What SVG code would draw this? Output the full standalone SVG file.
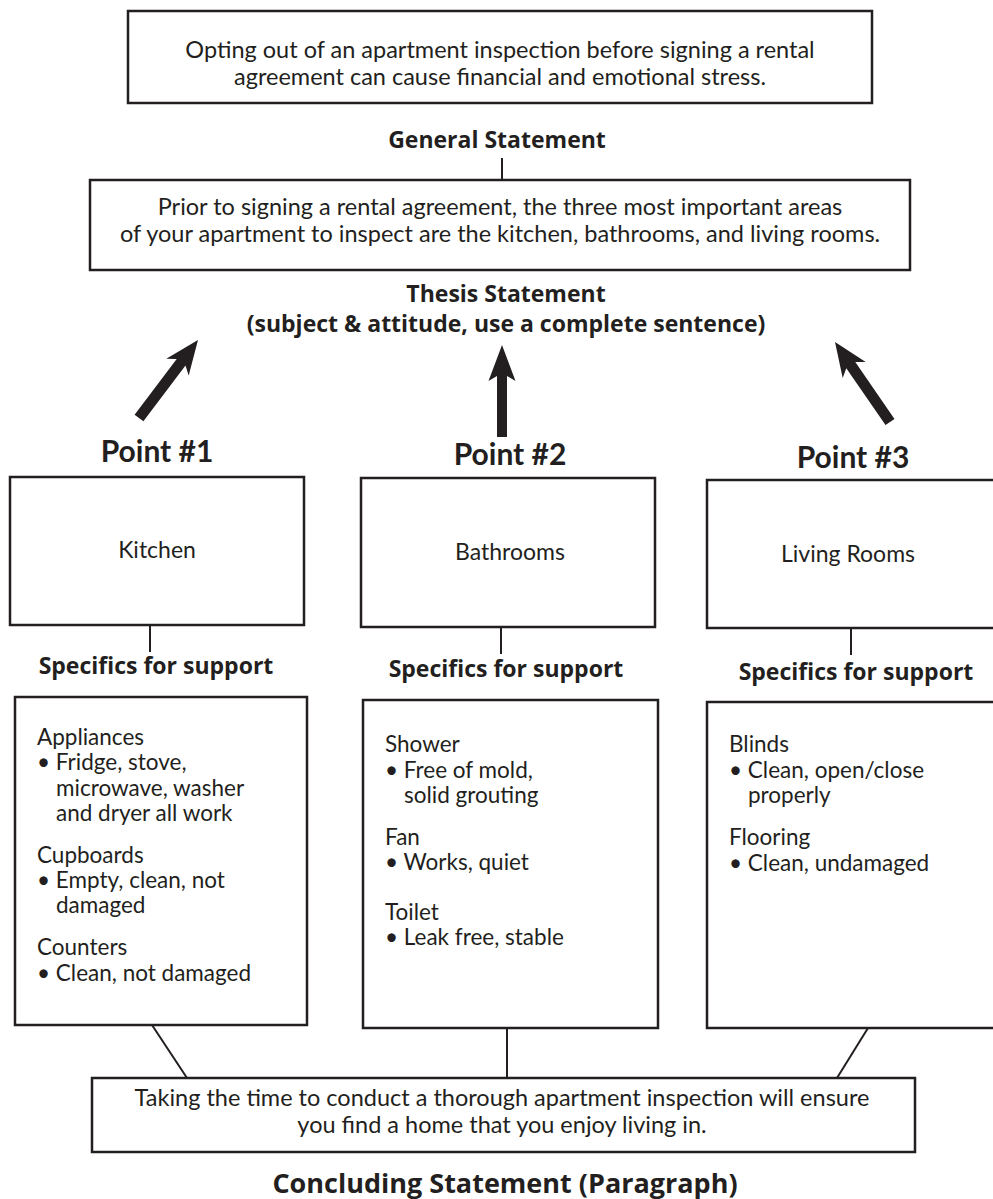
<svg xmlns="http://www.w3.org/2000/svg" width="993" height="1199" viewBox="0 0 993 1199">
<style>
.box{fill:#fff;stroke:#231f20;stroke-width:2.5}
.ln{stroke:#231f20;stroke-width:2;fill:none}
.arr{fill:#231f20}
text{font-family:Lato,"Open Sans","Liberation Sans",sans-serif;fill:#231f20}
.t{font-size:23.5px;text-anchor:middle}
.n{font-size:23px;text-anchor:middle}
.b{font-family:"Open Sans",Lato,"Liberation Sans",sans-serif;font-size:23px;font-weight:bold;text-anchor:middle}
.p{font-size:30px;font-weight:bold;text-anchor:middle}
.d{font-size:22.5px}
.c{font-family:"Open Sans",Lato,"Liberation Sans",sans-serif;font-size:27px;font-weight:bold;text-anchor:middle}
</style>
<rect width="993" height="1199" fill="#fff"/>
<g id="connectors">
<line class="ln" x1="502" y1="158" x2="502" y2="180"/>
<polygon class="arr" points="134.6,414.7 176.7,359 166.3,358.7 198,340 188.7,375.5 185.5,365.6 143.4,421.3"/>
<polygon class="arr" points="497,437 497,376 488.5,381 502,345 515.5,381 507,376 507,437"/>
<polygon class="arr" points="894.5,418.9 855.3,362 865.7,362.1 835,342 842.7,377.9 846.3,368.2 885.5,425.1"/>
<line class="ln" x1="150" y1="625" x2="150" y2="652"/>
<line class="ln" x1="501" y1="627" x2="501" y2="654"/>
<line class="ln" x1="851" y1="628" x2="851" y2="655"/>
<line class="ln" x1="152" y1="1025" x2="187" y2="1078"/>
<line class="ln" x1="507" y1="1028" x2="507" y2="1078"/>
<line class="ln" x1="868" y1="1028" x2="837" y2="1078"/>
</g>
<g id="general">
<rect class="box" x="128" y="11" width="744" height="92"/>
<text class="t" x="500" y="58">Opting out of an apartment inspection before signing a rental</text>
<text class="t" x="500" y="85">agreement can cause financial and emotional stress.</text>
<text class="b" x="497" y="148">General Statement</text>
</g>
<g id="thesis">
<rect class="box" x="90" y="180" width="820" height="90"/>
<text class="t" x="500" y="215">Prior to signing a rental agreement, the three most important areas</text>
<text class="t" x="500" y="242">of your apartment to inspect are the kitchen, bathrooms, and living rooms.</text>
<text class="b" x="506" y="302">Thesis Statement</text>
<text class="b" x="506" y="332">(subject &amp; attitude, use a complete sentence)</text>
</g>
<g id="point1">
<text class="p" x="157" y="462">Point #1</text>
<rect class="box" x="10" y="477" width="294" height="148"/>
<text class="n" x="157" y="558">Kitchen</text>
<text class="b" x="156" y="674">Specifics for support</text>
</g>
<g id="point2">
<text class="p" x="510" y="465">Point #2</text>
<rect class="box" x="361" y="478" width="294" height="149"/>
<text class="n" x="510" y="560">Bathrooms</text>
<text class="b" x="506" y="677">Specifics for support</text>
</g>
<g id="point3">
<text class="p" x="853" y="468">Point #3</text>
<rect class="box" x="707" y="480" width="300" height="148"/>
<text class="n" x="848" y="562">Living Rooms</text>
<text class="b" x="856" y="680">Specifics for support</text>
</g>
<g id="specifics1">
<rect class="box" x="15" y="697" width="292" height="328"/>
<text class="d" x="37" y="745">Appliances</text>
<text class="d" x="37" y="770">• Fridge, stove,</text>
<text class="d" x="56" y="796">microwave, washer</text>
<text class="d" x="56" y="821">and dryer all work</text>
<text class="d" x="37" y="863">Cupboards</text>
<text class="d" x="37" y="888">• Empty, clean, not</text>
<text class="d" x="56" y="913">damaged</text>
<text class="d" x="37" y="955">Counters</text>
<text class="d" x="37" y="981">• Clean, not damaged</text>
</g>
<g id="specifics2">
<rect class="box" x="363" y="700" width="295" height="328"/>
<text class="d" x="385" y="752">Shower</text>
<text class="d" x="385" y="778">• Free of mold,</text>
<text class="d" x="404" y="803">solid grouting</text>
<text class="d" x="385" y="845">Fan</text>
<text class="d" x="385" y="870">• Works, quiet</text>
<text class="d" x="385" y="920">Toilet</text>
<text class="d" x="385" y="945">• Leak free, stable</text>
</g>
<g id="specifics3">
<rect class="box" x="707" y="702" width="300" height="326"/>
<text class="d" x="729" y="752">Blinds</text>
<text class="d" x="729" y="778">• Clean, open/close</text>
<text class="d" x="748" y="803">properly</text>
<text class="d" x="729" y="845">Flooring</text>
<text class="d" x="729" y="871">• Clean, undamaged</text>
</g>
<g id="concluding">
<rect class="box" x="92" y="1078" width="823" height="74"/>
<text class="t" x="502" y="1106" style="font-size:23.5px">Taking the time to conduct a thorough apartment inspection will ensure</text>
<text class="t" x="502" y="1133" style="font-size:23.5px">you find a home that you enjoy living in.</text>
<text class="c" x="505" y="1193">Concluding Statement (Paragraph)</text>
</g>
</svg>
